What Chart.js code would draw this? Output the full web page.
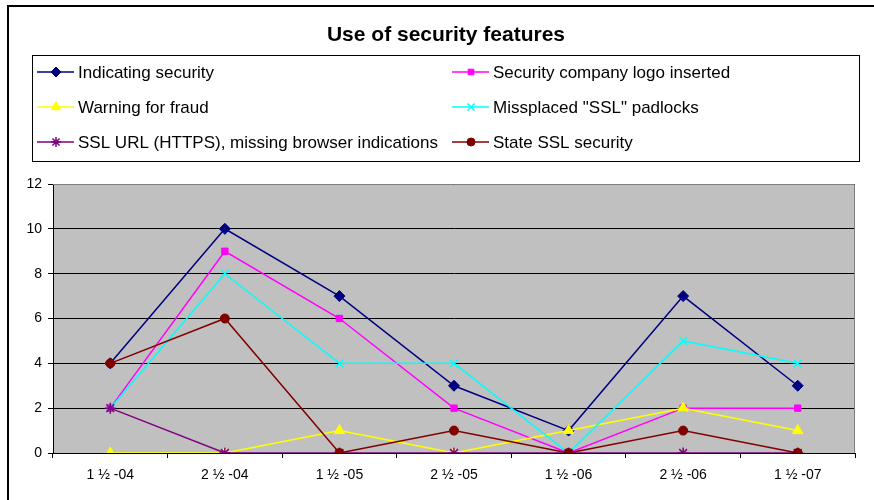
<!DOCTYPE html>
<html>
<head>
<meta charset="utf-8">
<script src="https://cdn.jsdelivr.net/npm/chart.js@4/dist/chart.umd.min.js"></script>
<style>
  html, body { margin: 0; padding: 0; background: #fff; }
  #wrap { position: relative; width: 874px; height: 500px; }
</style>
</head>
<body>
<div id="wrap"><canvas id="chart" width="874" height="500"></canvas></div>
<script>
const TITLE = 'Use of security features';
const labels = ['1 ½ -04', '2 ½ -04', '1 ½ -05', '2 ½ -05', '1 ½ -06', '2 ½ -06', '1 ½ -07'];

const seriesNames = [
  'Indicating security',
  'Security company logo inserted',
  'Warning for fraud',
  'Missplaced "SSL" padlocks',
  'SSL URL (HTTPS), missing browser indications',
  'State SSL security',
];
const indicating = [4, 10, 7, 3, 1, 7, 3];
const logo = [2, 9, 6, 2, 0, 2, 2];
const fraud = [0, 0, 1, 0, 1, 2, 1];
const padlocks = [2, 8, 4, 4, 0, 5, 4];
const sslUrl = [2, 0, 0, 0, 0, 0, 0];
const stateSsl = [4, 6, 0, 1, 0, 1, 0];

const seriesColors = ['#000080', '#FF00FF', '#FFFF00', '#00FFFF', '#800080', '#800000'];
const seriesMarkers = ['rectRot', 'rect', 'triangle', 'crossRot', 'star', 'circle'];
const markerRadius = { rectRot: 5.5, rect: 4.5, triangle: 6, crossRot: 5.5, star: 5.5, circle: 4.5 };
const values = [indicating, logo, fraud, padlocks, sslUrl, stateSsl];

const FONT = '"Liberation Sans", Arial, sans-serif';

const datasets = values.map((v, i) => ({
  label: seriesNames[i],
  data: v,
  borderColor: seriesColors[i],
  backgroundColor: seriesColors[i],
  borderWidth: 1.5,
  pointStyle: seriesMarkers[i],
  pointRadius: markerRadius[seriesMarkers[i]],
  pointBorderWidth: (seriesMarkers[i] === 'crossRot' || seriesMarkers[i] === 'star') ? 1.5 : 1,
  tension: 0,
  order: values.length - i,
}));

const frame = {
  id: 'frame',
  beforeDraw(chart) {
    const { ctx, chartArea: a } = chart;
    ctx.save();
    ctx.fillStyle = '#fff';
    ctx.fillRect(0, 0, chart.width, chart.height);
    // outer chart border (only top and left are inside the picture)
    ctx.strokeStyle = '#000';
    ctx.lineWidth = 2;
    ctx.beginPath();
    ctx.moveTo(8, chart.height);
    ctx.lineTo(8, 6);
    ctx.lineTo(chart.width, 6);
    ctx.stroke();
    ctx.fillStyle = '#C0C0C0';
    ctx.fillRect(a.left, a.top, a.right - a.left, a.bottom - a.top);
    ctx.restore();
  },
  afterDraw(chart) {
    const { ctx, chartArea: a } = chart;
    ctx.save();
    // plot border top/right
    ctx.strokeStyle = '#808080';
    ctx.lineWidth = 1;
    ctx.beginPath();
    ctx.moveTo(a.left, a.top + 0.5);
    ctx.lineTo(a.right - 0.5, a.top + 0.5);
    ctx.lineTo(a.right - 0.5, a.bottom);
    ctx.stroke();

    // title
    ctx.fillStyle = '#000';
    ctx.font = 'bold 21px ' + FONT;
    ctx.textAlign = 'center';
    ctx.textBaseline = 'middle';
    ctx.fillText(TITLE, 446, 35);

    // legend box
    ctx.strokeStyle = '#000';
    ctx.lineWidth = 1;
    ctx.strokeRect(32.5, 55.5, 827, 106);
    ctx.font = '17px ' + FONT;
    ctx.textAlign = 'left';
    const cols = [37, 452];
    const rows = [72, 107, 142];
    datasets.forEach((ds, i) => {
      const x = cols[i % 2];
      const y = rows[Math.floor(i / 2)];
      ctx.strokeStyle = ds.borderColor;
      ctx.lineWidth = 1.5;
      ctx.beginPath();
      ctx.moveTo(x, y);
      ctx.lineTo(x + 37, y);
      ctx.stroke();
      ctx.fillStyle = ds.backgroundColor;
      ctx.lineWidth = ds.pointBorderWidth;
      Chart.helpers.drawPoint(ctx, {
        pointStyle: ds.pointStyle,
        radius: ds.pointRadius - 0.5,
        rotation: 0,
        borderWidth: ds.pointBorderWidth,
      }, x + 19, y);
      ctx.fillStyle = '#000';
      ctx.fillText(ds.label, x + 41, y + 1);
    });
    ctx.restore();
  },
};

new Chart(document.getElementById('chart'), {
  type: 'line',
  data: { labels, datasets },
  options: {
    responsive: false,
    animation: false,
    layout: { padding: { left: 0, right: 19, top: 184, bottom: 0 } },
    plugins: { legend: { display: false }, tooltip: { enabled: false } },
    scales: {
      x: {
        offset: true,
        grid: { offset: true, drawOnChartArea: false, drawTicks: true, tickLength: 5, color: '#000' },
        border: { color: '#000', width: 1 },
        ticks: { color: '#000', font: { family: FONT, size: 14 }, padding: 9, maxRotation: 0 },
        afterFit(s) { s.height = 47; },
      },
      y: {
        min: 0,
        max: 12,
        ticks: { stepSize: 2, color: '#000', font: { family: FONT, size: 14 }, padding: 6 },
        grid: { color: '#000', lineWidth: 1, drawTicks: true, tickLength: 5 },
        border: { color: '#000', width: 1 },
        afterFit(s) { s.width = 53; },
      },
    },
  },
  plugins: [frame],
});
</script>
</body>
</html>
